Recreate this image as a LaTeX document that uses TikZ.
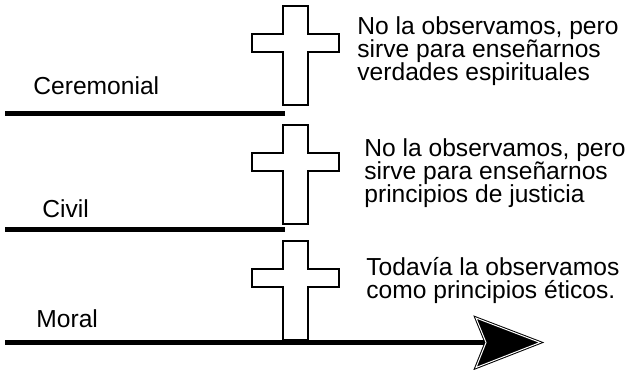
\documentclass[tikz,border=0pt]{standalone}
\usepackage{fontspec}
\setmainfont{Liberation Sans}

\begin{document}
\begin{tikzpicture}[x=0.5pt, y=-0.5pt,
  every node/.style={inner sep=0pt, font=\fontsize{12.3}{11.5}\selectfont},
  etiqueta/.style={anchor=base west},
  nota/.style={anchor=base west, align=left},
  linea/.style={line width=2.25pt},
  cruz/.pic={\draw[line width=1.1pt, fill=white] (-12.5,0) -- (12.5,0) -- (12.5,28) -- (43.5,28) -- (43.5,46) -- (12.5,46) -- (12.5,99) -- (-12.5,99) -- (-12.5,46) -- (-43.5,46) -- (-43.5,28) -- (-12.5,28) -- cycle;}]
  \useasboundingbox (0,0) rectangle (630,369);
  \coordinate (cerIni) at (5,113.5);
  \coordinate (cerFin) at (285,113.5);
  \coordinate (civIni) at (5,229.7);
  \coordinate (civFin) at (285,229.7);
  \coordinate (morIni) at (5,342.5);
  \coordinate (muesca) at (486,342.5);
  \coordinate (punta) at (540,342.5);
  \pic at (295.5,6) {cruz};
  \pic at (295.5,125) {cruz};
  \pic at (295.5,241) {cruz};
  \draw[linea] (cerIni) -- (cerFin);
  \draw[linea] (civIni) -- (civFin);
  \draw[linea] (morIni) -- (muesca);
  \fill[black, draw, double=white, line width=0.5pt, double distance=0.5pt] (punta) -- ++(-64,-24.5) -- (muesca) -- ++(-10,25) -- cycle;
  \node[etiqueta] (ceremonial) at (33,95) {Ceremonial};
  \node[etiqueta] (civil) at (42,217) {Civil};
  \node[etiqueta] (moral) at (36,327) {Moral};
  \node[nota] (notaCer) at (357,81) {No la observamos, pero\\sirve para enseñarnos\\verdades espirituales};
  \node[nota] (notaCiv) at (364,202.5) {No la observamos, pero\\sirve para enseñarnos\\principios de justicia};
  \node[nota] (notaMor) at (366,298.5) {Todavía la observamos\\como principios éticos.};
\end{tikzpicture}
\end{document}
